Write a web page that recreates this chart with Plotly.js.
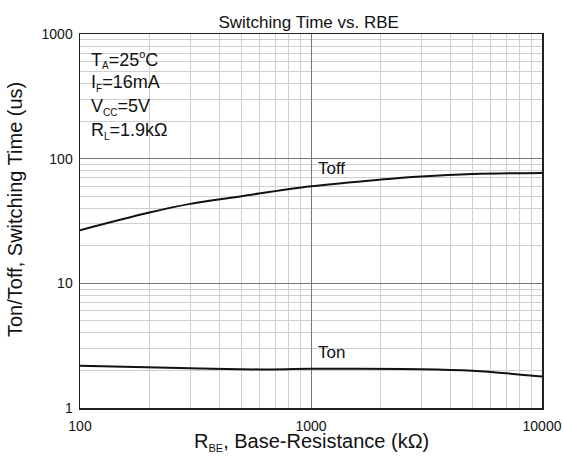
<!DOCTYPE html>
<html><head><meta charset="utf-8">
<script src="https://cdn.plot.ly/plotly-3.0.1.min.js"></script>
<style>html,body{margin:0;padding:0;background:#fff}#chart{width:563px;height:456px}</style>
</head><body><div id="chart"></div>
<script>
const rbe = [100, 200, 300, 500, 1000, 2000, 3000, 5000, 10000];
const toff = [26.7, 37, 43.4, 50, 60, 68, 72, 75.4, 76.8];
const rbeOn = [100, 300, 600, 1000, 3000, 5000, 10000];
const ton = [2.18, 2.08, 2.04, 2.06, 2.05, 1.99, 1.79];
const yTicks = [1, 10, 100, 1000];
const xTicks = [100, 1000, 10000];
const condSymbols = ["T", "I", "V", "R"];
const condSubs = ["A", "F", "CC", "L"];
const condValues = ["=25°C", "=16mA", "=5V", "=1.9kΩ"];

const font = "Liberation Sans, Arial, sans-serif";
const ink = "#111";
const traces = [
  {x: rbe, y: toff, mode: "lines", line: {color: ink, width: 2, shape: "spline"}, hoverinfo: "skip"},
  {x: rbeOn, y: ton, mode: "lines", line: {color: ink, width: 2, shape: "spline"}, hoverinfo: "skip"}
];
const axisCommon = {
  type: "log", showline: true, linecolor: "#222", linewidth: 1.5, mirror: true,
  showgrid: true, gridcolor: "#777", gridwidth: 1, ticks: "", zeroline: false,
  tickfont: {family: font, size: 14, color: ink},
  minor: {showgrid: true, dtick: "D1", gridcolor: "#cfcfcf", gridwidth: 1, ticks: ""}
};
// plot area in pixels: top 34, bottom 408
const ppx = y => (408 - y) / 374;
const condAnn = condSymbols.map((s, i) => ({
  xref: "paper", yref: "paper", x: 0.02, y: ppx([59, 83, 107, 131][i]),
  xanchor: "left", yanchor: "middle", align: "left", showarrow: false,
  text: s + "<sub><span style='font-size:10px'>" + condSubs[i] + "</span></sub>" + condValues[i].replace("°", "<sup><span style='font-size:11px'>o</span></sup>"),
  font: {family: font, size: 18, color: ink}
}));
const layout = {
  width: 563, height: 456,
  margin: {l: 80, r: 21, t: 34, b: 48},
  paper_bgcolor: "#fff", plot_bgcolor: "#fff",
  showlegend: false,
  title: {text: "Switching Time vs. RBE", font: {family: font, size: 17, color: ink}, xref: "paper", x: 0.495, xanchor: "center", y: 0.952, yanchor: "middle"},
  xaxis: Object.assign({}, axisCommon, {
    range: [2, 4], tickvals: xTicks, ticktext: xTicks.map(String), ticklabelstandoff: 5
  }),
  yaxis: Object.assign({}, axisCommon, {
    range: [0, 3], tickvals: yTicks, ticktext: yTicks.map(String), ticklabelstandoff: 3
  }),
  shapes: [
    {type: "rect", xref: "paper", yref: "paper", x0: 0, x1: 0.188, y0: 0.665, y1: 1, fillcolor: "#fff", line: {width: 0}, layer: "between"}
  ],
  annotations: condAnn.concat([
    {xref: "paper", yref: "paper", x: 0.5, y: ppx(442), xanchor: "center", yanchor: "middle", showarrow: false,
     text: "R<sub><span style='font-size:11px'>BE</span></sub>, Base-Resistance (kΩ)", font: {family: font, size: 20, color: ink}},
    {xref: "paper", yref: "paper", x: (15 - 80) / 462, y: ppx(210), xanchor: "center", yanchor: "middle", textangle: -90, showarrow: false,
     text: "Ton/Toff, Switching Time (us)", font: {family: font, size: 20, color: ink}},
    {xref: "paper", yref: "paper", x: (316 - 80) / 462, y: ppx(168), text: "Toff", showarrow: false, xanchor: "left", yanchor: "middle", font: {family: font, size: 17, color: ink}},
    {xref: "paper", yref: "paper", x: (316 - 80) / 462, y: ppx(352), text: "Ton", showarrow: false, xanchor: "left", yanchor: "middle", font: {family: font, size: 17, color: ink}}
  ])
};
Plotly.newPlot("chart", traces, layout, {staticPlot: true, displayModeBar: false});
</script>
</body></html>
